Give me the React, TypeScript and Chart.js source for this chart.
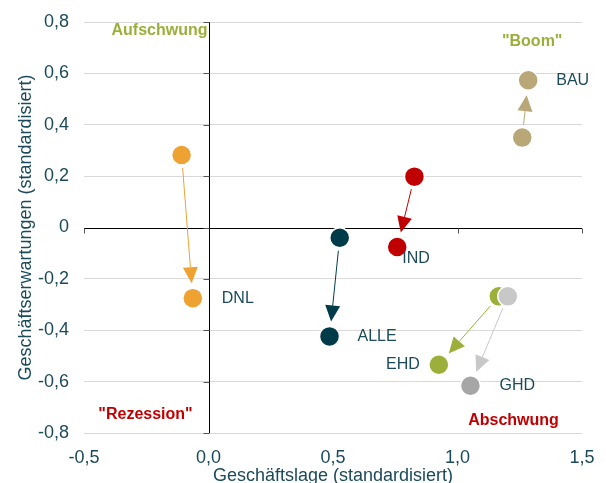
import React, { useEffect, useRef } from "react";
import { Chart, registerables } from "chart.js";

Chart.register(...registerables);

// ---- data ----
const seriesNames = ["GHD", "EHD", "DNL", "BAU", "IND", "ALLE"];
const startX = [1.202, 1.166, -0.108, 1.26, 0.827, 0.527];
const startY = [-0.268, -0.268, 0.282, 0.35, 0.198, -0.04];
const endX = [1.052, 0.925, -0.063, 1.284, 0.758, 0.486];
const endY = [-0.616, -0.534, -0.275, 0.573, -0.076, -0.424];

const yTickValues = [-0.8, -0.6, -0.4, -0.2, 0, 0.2, 0.4, 0.6, 0.8];
const xTickValues = [-0.5, 0, 0.5, 1.0, 1.5];

const quadrantLabels = ['Aufschwung', '"Boom"', '"Rezession"', "Abschwung"];
const quadrantX = [-0.004, 1.3, -0.253, 1.225];
const quadrantY = [0.765, 0.722, -0.729, -0.752];

// ---- styles ----
const startColors = ["#C8C8C8", "#9BAF3A", "#EEA232", "#B9A777", "#C00000", "#003B49"];
const endColors = ["#A6A6A6", "#9BAF3A", "#EEA232", "#B9A777", "#C00000", "#003B49"];
const arrowColors = ["#C8C8C8", "#9BAF3A", "#EEA232", "#B9A777", "#C00000", "#003B49"];
const labelDX = [29, -19, 29, 28, 5, 28];
const labelDY = [0, 0, 0, 0, 12, 0];
const labelAlign: CanvasTextAlign[] = ["left", "right", "left", "left", "left", "left"];
const quadrantColors = ["#9BAF3A", "#9BAF3A", "#C00000", "#C00000"];
const quadrantAlign: CanvasTextAlign[] = ["right", "center", "center", "center"];

const TEXT = "#1B4A5A";
const FONT = "'Liberation Sans', Arial, sans-serif";

const fmt = (v: number, zeroPlain: boolean) => {
  if (zeroPlain && Math.abs(v) < 1e-9) return "0";
  return (Math.abs(v) < 1e-9 ? 0 : v).toFixed(1).replace(".", ",");
};

const overlayPlugin = {
  id: "overlay",
  beforeDatasetsDraw(chart: any) {
    const { ctx, chartArea, scales } = chart;
    const x = scales.x;
    const y = scales.y;
    const x0 = Math.round(x.getPixelForValue(0)) + 0.5;
    const y0 = Math.round(y.getPixelForValue(0)) + 0.5;
    ctx.save();
    ctx.strokeStyle = "#000000";
    ctx.lineWidth = 1;
    ctx.beginPath();
    ctx.moveTo(chartArea.left, y0);
    ctx.lineTo(chartArea.right, y0);
    ctx.moveTo(x0, chartArea.top);
    ctx.lineTo(x0, chartArea.bottom);
    ctx.stroke();
    ctx.strokeStyle = "#555555";
    ctx.beginPath();
    yTickValues.forEach((v) => {
      const py = Math.round(y.getPixelForValue(v)) + 0.5;
      ctx.moveTo(x0 - 6, py);
      ctx.lineTo(x0, py);
    });
    xTickValues.forEach((v) => {
      if (v === 0) return;
      const px = Math.round(x.getPixelForValue(v)) + 0.5;
      ctx.moveTo(px, y0);
      ctx.lineTo(px, y0 + 5);
    });
    ctx.stroke();

    // arrows
    const startGap = 13;
    const endGap = 15;
    const headLen = 16;
    const headHalf = 7.5;
    seriesNames.forEach((_, i) => {
      const sx = x.getPixelForValue(startX[i]);
      const sy = y.getPixelForValue(startY[i]);
      const ex = x.getPixelForValue(endX[i]);
      const ey = y.getPixelForValue(endY[i]);
      const d = Math.hypot(ex - sx, ey - sy);
      const ux = (ex - sx) / d;
      const uy = (ey - sy) / d;
      const lx = sx + ux * startGap;
      const ly = sy + uy * startGap;
      const tx = ex - ux * endGap;
      const ty = ey - uy * endGap;
      const bx = tx - ux * headLen;
      const by = ty - uy * headLen;
      ctx.strokeStyle = arrowColors[i];
      ctx.fillStyle = arrowColors[i];
      ctx.lineWidth = 1;
      ctx.beginPath();
      ctx.moveTo(lx, ly);
      ctx.lineTo(bx, by);
      ctx.stroke();
      ctx.beginPath();
      ctx.moveTo(tx, ty);
      ctx.lineTo(bx - uy * headHalf, by + ux * headHalf);
      ctx.lineTo(bx + uy * headHalf, by - ux * headHalf);
      ctx.closePath();
      ctx.fill();
    });
    ctx.restore();
  },
  afterDatasetsDraw(chart: any) {
    const { ctx, scales } = chart;
    const x = scales.x;
    const y = scales.y;
    ctx.save();
    ctx.textBaseline = "middle";
    ctx.font = `16px ${FONT}`;
    ctx.fillStyle = TEXT;
    seriesNames.forEach((name, i) => {
      const px = x.getPixelForValue(endX[i]) + labelDX[i];
      const py = y.getPixelForValue(endY[i]) + labelDY[i];
      ctx.textAlign = labelAlign[i];
      ctx.fillText(name, px, py);
    });
    ctx.font = `bold 16px ${FONT}`;
    quadrantLabels.forEach((t, i) => {
      ctx.fillStyle = quadrantColors[i];
      ctx.textAlign = quadrantAlign[i];
      ctx.fillText(t, x.getPixelForValue(quadrantX[i]), y.getPixelForValue(quadrantY[i]));
    });
    ctx.restore();
  },
};

export default function App() {
  const canvasRef = useRef<HTMLCanvasElement | null>(null);

  useEffect(() => {
    if (!canvasRef.current) return;
    const datasets = seriesNames.map((name, i) => ({
      label: name,
      data: [
        { x: startX[i], y: startY[i] },
        { x: endX[i], y: endY[i] },
      ],
      pointRadius: 10,
      pointHoverRadius: 10,
      pointBackgroundColor: [startColors[i], endColors[i]],
      pointBorderColor: "#FFFFFF",
      pointBorderWidth: 1.5,
      showLine: false,
    }));
    const chart = new Chart(canvasRef.current, {
      type: "scatter",
      data: { datasets },
      plugins: [overlayPlugin],
      options: {
        responsive: false,
        animation: false,
        events: [],
        layout: { padding: { top: 22, right: 24, left: 0, bottom: 0 } },
        plugins: {
          legend: { display: false },
          tooltip: { enabled: false },
          title: { display: false },
        },
        scales: {
          x: {
            type: "linear",
            min: -0.5,
            max: 1.5,
            afterBuildTicks: (s: any) => {
              s.ticks = xTickValues.map((v) => ({ value: v }));
            },
            afterFit: (s: any) => {
              s.height = 50;
              s.paddingLeft = 0;
              s.paddingRight = 0;
            },
            grid: { display: false, drawTicks: false },
            border: { display: false },
            ticks: {
              padding: 14,
              color: TEXT,
              font: { size: 18, family: FONT },
              callback: (v: any) => fmt(Number(v), false),
              maxRotation: 0,
            },
            title: {
              display: true,
              text: "Geschäftslage (standardisiert)",
              color: TEXT,
              font: { size: 18, family: FONT },
              padding: { top: 0, bottom: -4 },
            },
          },
          y: {
            type: "linear",
            min: -0.8,
            max: 0.8,
            afterBuildTicks: (s: any) => {
              s.ticks = yTickValues.map((v) => ({ value: v }));
            },
            afterFit: (s: any) => {
              s.width = 84;
              s.paddingTop = 0;
              s.paddingBottom = 0;
            },
            grid: {
              color: (c: any) => (Math.abs(c.tick?.value ?? 1) < 1e-9 ? "rgba(0,0,0,0)" : "#D9D9D9"),
              lineWidth: 1,
              drawTicks: false,
            },
            border: { display: false },
            ticks: {
              padding: 15,
              color: TEXT,
              font: { size: 18, family: FONT },
              callback: (v: any) => fmt(Number(v), true),
            },
            title: {
              display: true,
              text: "Geschäftserwartungen (standardisiert)",
              color: TEXT,
              font: { size: 18, family: FONT },
              padding: { top: 15, bottom: 0 },
            },
          },
        },
      },
    });
    return () => chart.destroy();
  }, []);

  return (
    <div style={{ position: "absolute", left: 0, top: 0, width: 606, height: 483, background: "#FFFFFF" }}>
      <canvas ref={canvasRef} width={606} height={483} style={{ display: "block" }} />
    </div>
  );
}
